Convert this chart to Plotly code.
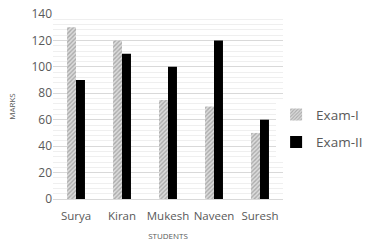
import plotly.graph_objects as go

students = ["Surya", "Kiran", "Mukesh", "Naveen", "Suresh"]
exam1 = [130, 120, 75, 70, 50]
exam2 = [90, 110, 100, 120, 60]
y_ticks = [0, 20, 40, 60, 80, 100, 120, 140]

fig = go.Figure()
fig.add_trace(go.Bar(
    x=students, y=exam1, name="Exam-I", legendgroup="a",
    marker=dict(color="#cfcfcf", line=dict(width=0),
                pattern=dict(shape="/", fgcolor="#7a7a7a", bgcolor="#dcdcdc", size=3, solidity=0.45)),
))
fig.add_trace(go.Bar(
    x=students, y=exam2, name="Exam-II", legendgroup="b",
    marker=dict(color="#000000", line=dict(width=0)),
))

fig.update_layout(
    width=379, height=241,
    margin=dict(l=53, r=96, t=14, b=42, autoexpand=False),
    paper_bgcolor="white", plot_bgcolor="white",
    barmode="group", bargap=0.61, bargroupgap=0,
    font=dict(family="Open Sans, DejaVu Sans, sans-serif", color="#595959"),
    legend=dict(x=0.97, y=0.38, xanchor="left", yanchor="middle",
                font=dict(size=13.5, color="#595959"),
                traceorder="grouped", tracegroupgap=7,
                itemwidth=30),
    xaxis=dict(
        title=dict(text="STUDENTS", font=dict(size=8, color="#595959"), standoff=12),
        tickfont=dict(size=11.5, color="#595959"), tickangle=0, automargin=False,
        showline=True, linecolor="#d9d9d9", linewidth=1,
        ticks="outside", ticklen=6, tickcolor="rgba(0,0,0,0)", showgrid=False,
    ),
    yaxis=dict(
        title=dict(text="MARKS", font=dict(size=8, color="#595959"), standoff=14),
        range=[0, 140], tickvals=y_ticks, automargin=False,
        tickfont=dict(size=12, color="#595959"),
        showgrid=True, gridcolor="#d9d9d9", gridwidth=1,
        minor=dict(dtick=4, showgrid=True, gridcolor="#efefef", gridwidth=1),
        zeroline=False, showline=False, ticks="",
    ),
)

fig.write_html("out.html")
